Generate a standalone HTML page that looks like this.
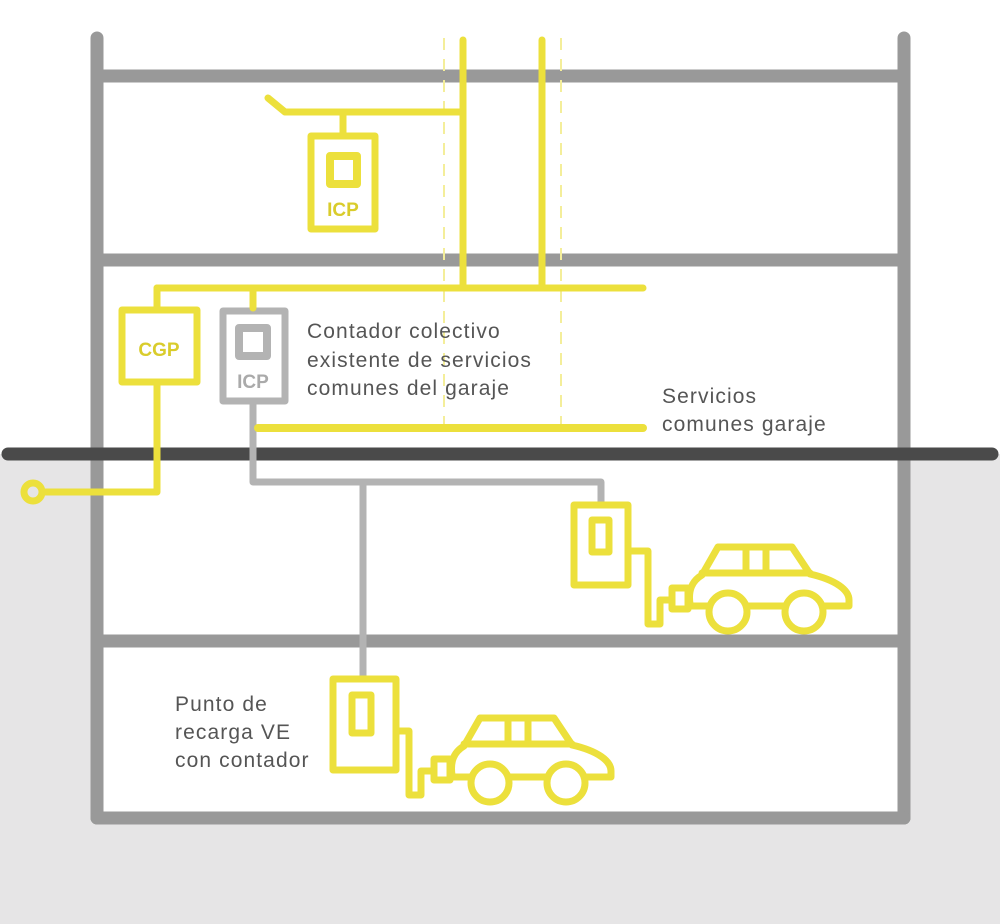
<!DOCTYPE html>
<html><head><meta charset="utf-8"><style>html,body{margin:0;padding:0;background:#fff}svg{display:block}</style></head>
<body>
<svg width="1000" height="924" viewBox="0 0 1000 924" xmlns="http://www.w3.org/2000/svg" font-family="'Liberation Sans', sans-serif">
<rect x="0" y="454" width="1000" height="470" fill="#e6e5e6"/>
<rect x="97" y="454" width="807" height="364" fill="#fff"/>
<g stroke="#999" stroke-width="13" stroke-linecap="round" fill="none">
<line x1="97" y1="38" x2="97" y2="818"/>
<line x1="904" y1="38" x2="904" y2="818"/>
<line x1="97" y1="76" x2="904" y2="76" stroke-linecap="butt"/>
<line x1="97" y1="260" x2="904" y2="260" stroke-linecap="butt"/>
<line x1="97" y1="641" x2="904" y2="641" stroke-linecap="butt"/>
<line x1="97" y1="818" x2="904" y2="818"/>
</g>
<g stroke="#f4ee9a" stroke-width="2" stroke-dasharray="12,9">
<line x1="444" y1="38" x2="444" y2="425"/>
<line x1="561" y1="38" x2="561" y2="425"/>
</g>
<line x1="8" y1="454" x2="992" y2="454" stroke="#4a4a4a" stroke-width="13" stroke-linecap="round"/>
<g stroke="#b3b3b3" stroke-width="7" fill="none" stroke-linejoin="round">
<polyline points="253,403 253,482 601,482 601,503"/>
<line x1="363" y1="482" x2="363" y2="677"/>
<rect x="223" y="311" width="62" height="90" fill="#fff"/>
<rect x="239" y="328" width="28" height="28" stroke-width="8"/>
</g>
<text x="253" y="388" font-size="19" font-weight="bold" fill="#aaa" text-anchor="middle">ICP</text>
<defs>
<g id="car">
<rect x="672" y="588" width="16" height="21"/>
<path d="M690,604 C688,590 692,581 702,575 L718,547 L792,547 L810,574 C836,580 849,590 849,600 L849,606 L823,606 M785,606 L747,606 M709,606 L690,606"/>
<line x1="702" y1="573" x2="810" y2="573"/>
<line x1="746" y1="547" x2="746" y2="573"/>
<line x1="766" y1="547" x2="766" y2="573"/>
<circle cx="728" cy="612" r="19" fill="#fff"/>
<circle cx="804" cy="612" r="19" fill="#fff"/>
</g>
</defs>
<g stroke="#ece03c" stroke-width="7" fill="none" stroke-linejoin="round" stroke-linecap="round">
<line x1="463" y1="40" x2="463" y2="288"/>
<line x1="542" y1="40" x2="542" y2="288"/>
<polyline points="268,98 285,112 463,112"/>
<line x1="343" y1="112" x2="343" y2="135"/>
<rect x="311" y="136" width="64" height="93"/>
<rect x="330" y="156" width="27" height="28" stroke-width="8"/>
<line x1="157" y1="288" x2="643" y2="288"/>
<line x1="157" y1="288" x2="157" y2="308"/>
<line x1="253" y1="288" x2="253" y2="308"/>
<rect x="122" y="310" width="75" height="72"/>
<polyline points="157,382 157,492 42,492"/>
<circle cx="33" cy="492" r="9"/>
<line x1="258" y1="428" x2="643" y2="428" stroke-width="8"/>
<rect x="574" y="505" width="54" height="80"/>
<rect x="592" y="520" width="17" height="32"/>
<polyline points="628,551 648,551 648,624 660,624 660,600 672,600"/>
<use href="#car"/>
<rect x="333" y="679" width="63" height="91"/>
<rect x="352" y="695" width="19" height="38"/>
<polyline points="396,731 409,731 409,795 421,795 421,771 434,771"/>
<use href="#car" transform="translate(-238,171)"/>
</g>
<text x="343" y="216" font-size="19" font-weight="bold" fill="#d9cc2c" text-anchor="middle">ICP</text>
<text x="159" y="356" font-size="19" font-weight="bold" fill="#d9cc2c" text-anchor="middle">CGP</text>
<g font-size="21" fill="#555" letter-spacing="1.1">
<text x="307" y="338">Contador colectivo</text>
<text x="307" y="367">existente de servicios</text>
<text x="307" y="395">comunes del garaje</text>
<text x="662" y="403">Servicios</text>
<text x="662" y="431">comunes garaje</text>
<text x="175" y="711">Punto de</text>
<text x="175" y="739">recarga VE</text>
<text x="175" y="767">con contador</text>
</g>
</svg>
</body></html>
